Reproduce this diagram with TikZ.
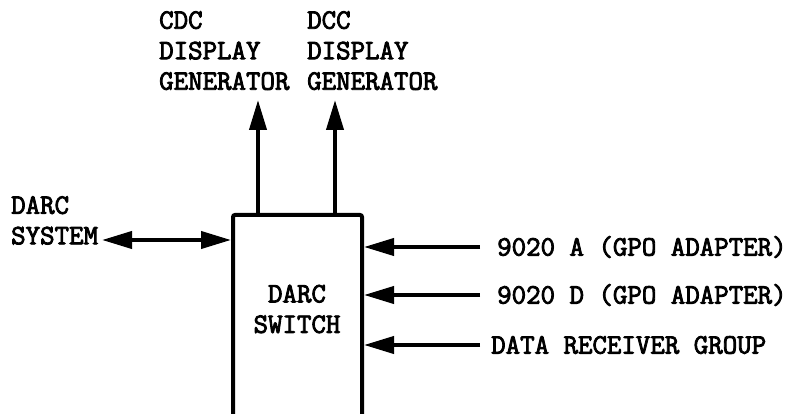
\documentclass[tikz,border=0pt]{standalone}
\usepackage{fontspec}
\newfontfamily\tw{Latin Modern Mono}[FakeBold=3]
\usetikzlibrary{arrows.meta}
\begin{document}
\begin{tikzpicture}[x=1pt,y=-1pt,
  lbl/.style={inner sep=0pt,align=left,font=\tw\fontsize{28.1}{30.5}\selectfont},
  conn/.style={line width=4pt},
  tip/.style={-{Triangle[length=30pt,width=17pt]}},
  box/.style={draw,line width=4pt,rounded corners=2pt,minimum width=129pt,minimum height=205pt,inner sep=0pt}]
\useasboundingbox (0,0) rectangle (790,414);
\node[box] (sw) at (297.5,317.5) {};
\node[lbl,align=center] (swl) at (297,309) {DARC\\SWITCH};
\node[lbl,anchor=north west] (cdc) at (159,11) {CDC\\DISPLAY\\GENERATOR};
\node[lbl,anchor=north west] (dcc) at (307,11) {DCC\\DISPLAY\\GENERATOR};
\node[lbl,anchor=north west] (sys) at (11,196) {DARC\\SYSTEM};
\coordinate (c1) at (258,100);
\coordinate (c2) at (335,100);
\coordinate (s1) at (102,240);
\node[lbl,anchor=west,inner xsep=17pt] (a) at (480,247) {9020 A (GPO ADAPTER)};
\node[lbl,anchor=west,inner xsep=17pt] (d) at (480,295) {9020 D (GPO ADAPTER)};
\node[lbl,anchor=west,inner xsep=11pt] (r) at (480,345) {DATA RECEIVER GROUP};
\draw[conn,tip] (sw.north -| c1) -- (c1);
\draw[conn,tip] (sw.north -| c2) -- (c2);
\draw[conn,{Triangle[length=30pt,width=17pt]}-{Triangle[length=30pt,width=17pt]}] (s1) -- (sw.west |- s1);
\draw[conn,tip] (a.west) -- (sw.east |- a.west);
\draw[conn,tip] (d.west) -- (sw.east |- d.west);
\draw[conn,tip] (r.west) -- (sw.east |- r.west);
\end{tikzpicture}
\end{document}
